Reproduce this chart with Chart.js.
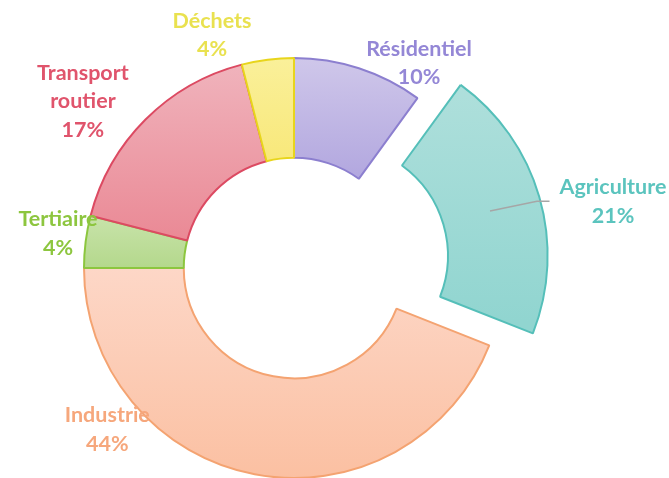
<!DOCTYPE html>
<html>
<head>
<meta charset="utf-8">
<script src="https://cdn.jsdelivr.net/npm/chart.js@4"></script>
<style>
  html, body { margin: 0; padding: 0; background: #fff; }
  #wrap { position: relative; width: 669px; height: 478px; }
</style>
</head>
<body>
<div id="wrap"><canvas id="chart"></canvas></div>
<script>
/* data, clockwise from 12 o'clock */
const sectors = ['Résidentiel', 'Agriculture', 'Industrie', 'Tertiaire', 'Transport routier', 'Déchets'];
const shares = [10, 21, 44, 4, 17, 4];

/* colours */
const fillTop = ['#cfc7ea', '#b0e0dc', '#fdd7c7', '#c8e3aa', '#f0b3bc', '#faf09a'];
const fillBottom = ['#b2a7df', '#91d5d0', '#fbc0a2', '#b4d88c', '#ea8995', '#f8e87a'];
const edgeColors = ['#8c7fcf', '#55bfb9', '#f4a371', '#8cc63e', '#dc4a62', '#e8d51c'];
const textColors = ['#9487d6', '#5bc4be', '#f6a77c', '#8dc63f', '#e0546c', '#e9e14f'];

const RADIUS = 210;
const CUTOUT = 0.525;
const EXPLODED = 'Agriculture';

function offsetFor(i) {
  return sectors[i] === EXPLODED ? 176 : 0; // Chart.js shifts arcs by offset / 4
}

/* vertical gradient spanning each slice's own height */
function sliceFill(c) {
  const i = c.dataIndex;
  const chart = c.chart;
  const area = chart.chartArea;
  if (!area) return fillBottom[i];
  const total = shares.reduce((s, v) => s + v, 0);
  const before = shares.slice(0, i).reduce((s, v) => s + v, 0);
  const a0 = before / total * 2 * Math.PI - Math.PI / 2;
  const a1 = (before + shares[i]) / total * 2 * Math.PI - Math.PI / 2;
  const mid = (a0 + a1) / 2;
  const cy = (area.top + area.bottom) / 2 + Math.sin(mid) * offsetFor(i) / 4;
  let lo = Infinity, hi = -Infinity;
  for (let k = 0; k <= 24; k++) {
    const a = a0 + (a1 - a0) * k / 24;
    for (const r of [RADIUS * CUTOUT, RADIUS]) {
      const y = cy + Math.sin(a) * r;
      lo = Math.min(lo, y);
      hi = Math.max(hi, y);
    }
  }
  const g = chart.ctx.createLinearGradient(0, lo, 0, hi);
  g.addColorStop(0, fillTop[i]);
  g.addColorStop(1, fillBottom[i]);
  return g;
}

function wrap(ctx, text, maxWidth) {
  const words = text.split(' ');
  const lines = [];
  let cur = '';
  for (const w of words) {
    const test = cur ? cur + ' ' + w : w;
    if (cur && ctx.measureText(test).width > maxWidth) {
      lines.push(cur);
      cur = w;
    } else {
      cur = test;
    }
  }
  if (cur) lines.push(cur);
  return lines;
}

/* category + percentage labels around the ring */
const sliceLabels = {
  id: 'sliceLabels',
  afterDatasetsDraw(chart, args, opts) {
    const ctx = chart.ctx;
    const arcs = chart.getDatasetMeta(0).data;
    ctx.save();
    ctx.font = opts.font;
    ctx.textAlign = 'center';
    ctx.textBaseline = 'middle';
    arcs.forEach((arc, i) => {
      const p = arc.getProps(['x', 'y', 'startAngle', 'endAngle', 'innerRadius', 'outerRadius']);
      const mid = (p.startAngle + p.endAngle) / 2;
      const shift = (arc.options.offset || 0) / 4;
      const cx = p.x + Math.cos(mid) * shift;
      const cy = p.y + Math.sin(mid) * shift;
      const [deg, dist] = opts.spots[i];
      const a = deg * Math.PI / 180 - Math.PI / 2;
      const lx = cx + Math.cos(a) * dist;
      const ly = cy + Math.sin(a) * dist;
      const lines = wrap(ctx, chart.data.labels[i], opts.maxWidth).concat(shares[i] + '%');
      const top = ly - (lines.length - 1) * opts.lineHeight / 2;

      if (opts.leaders.includes(chart.data.labels[i])) {
        const rMid = (p.innerRadius + p.outerRadius) / 2;
        const bend = mid + Math.PI / 180;
        const ex = cx + Math.cos(bend) * (p.outerRadius - 2);
        const ey = cy + Math.sin(bend) * (p.outerRadius - 2);
        const w = ctx.measureText(lines[0]).width;
        ctx.beginPath();
        ctx.moveTo(cx + Math.cos(mid) * rMid, cy + Math.sin(mid) * rMid);
        ctx.lineTo(ex, ey);
        ctx.lineTo(lx - w / 2 - 10, ey);
        ctx.strokeStyle = '#a6a6a6';
        ctx.lineWidth = 1.5;
        ctx.stroke();
      }

      ctx.fillStyle = textColors[i];
      lines.forEach((t, k) => ctx.fillText(t, lx, top + k * opts.lineHeight));
    });
    ctx.restore();
  },
};

new Chart(document.getElementById('chart'), {
  type: 'doughnut',
  data: {
    labels: sectors,
    datasets: [{
      data: shares,
      backgroundColor: sliceFill,
      borderColor: edgeColors,
      borderWidth: 2,
      offset: (c) => offsetFor(c.dataIndex),
      hoverOffset: 0,
    }],
  },
  options: {
    responsive: true,
    maintainAspectRatio: false,
    animation: false,
    radius: RADIUS,
    cutout: (CUTOUT * 100) + '%',
    layout: { padding: { left: 0, right: 81, top: 58, bottom: 0 } },
    plugins: {
      legend: { display: false },
      tooltip: { enabled: false },
      sliceLabels: {
        font: 'bold 21.5px Lato',
        lineHeight: 28.5,
        maxWidth: 115,
        leaders: ['Agriculture'],
        // [angle clockwise from top in degrees, distance from slice centre]
        spots: [[31.4, 240], [78.9, 282], [229.1, 247], [278.3, 238.5], [308.3, 269], [340.6, 247]],
      },
    },
  },
  plugins: [sliceLabels],
});
</script>
</body>
</html>
